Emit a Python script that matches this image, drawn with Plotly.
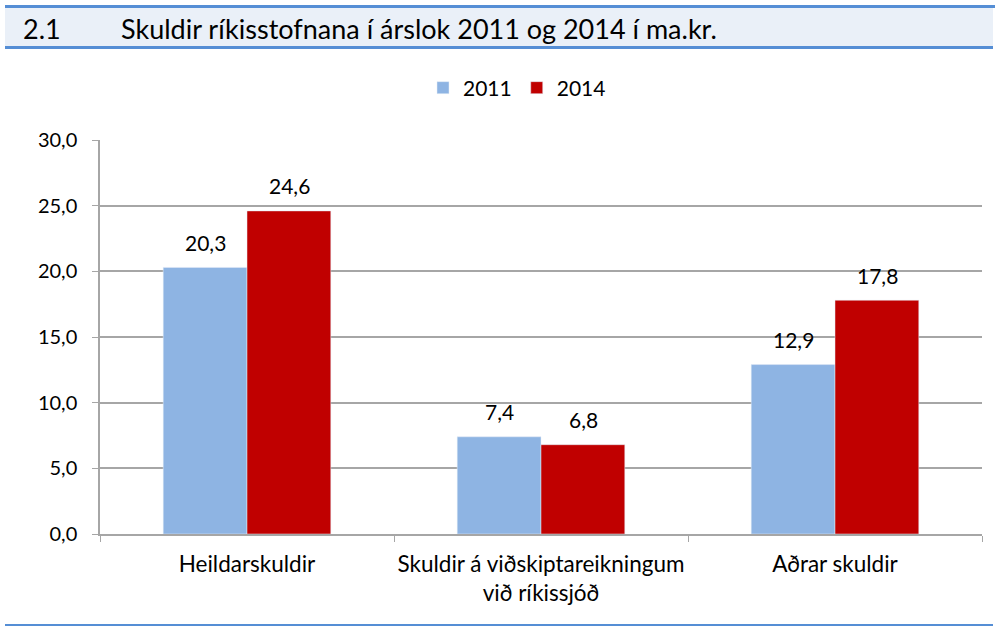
import plotly.graph_objects as go

categories = ["Heildarskuldir", "Skuldir á viðskiptareikningum<br>við ríkissjóð", "Aðrar skuldir"]
values_2011 = [20.3, 7.4, 12.9]
values_2014 = [24.6, 6.8, 17.8]
y_ticks = [0, 5, 10, 15, 20, 25, 30]

W, H = 997, 627
L, R, T, B = 100, 982, 140, 534
FONT = "Lato"

def px(x):
    return (x - L) / (R - L)

def py(y):
    return (B - y) / (B - T)

def fmt(v):
    return f"{v:.1f}".replace(".", ",")

fig = go.Figure()
fig.add_trace(go.Bar(name="2011", x=categories, y=values_2011, marker_color="#8EB4E3"))
fig.add_trace(go.Bar(name="2014", x=categories, y=values_2014, marker_color="#C00000"))

annotations = []
for vals, sh in ((values_2011, -42), (values_2014, 42)):
    for c, v in zip(categories, vals):
        annotations.append(dict(x=c, y=v, xref="x", yref="y", text=fmt(v), showarrow=False,
                                xshift=sh, yshift=25, yanchor="middle",
                                font=dict(size=21, color="#000", family=FONT)))

shapes = [
    dict(type="rect", xref="paper", yref="paper", x0=px(5), x1=px(993), y0=py(46), y1=py(8),
         fillcolor="#EAF0F8", line=dict(width=0), layer="below"),
    dict(type="line", xref="paper", yref="paper", x0=px(5), x1=px(995), y0=py(6.5), y1=py(6.5),
         line=dict(color="#558ED5", width=3)),
    dict(type="line", xref="paper", yref="paper", x0=px(5), x1=px(993), y0=py(47.5), y1=py(47.5),
         line=dict(color="#558ED5", width=3)),
    dict(type="line", xref="paper", yref="paper", x0=px(5), x1=px(993), y0=py(625), y1=py(625),
         line=dict(color="#558ED5", width=2)),
]

annotations += [
    dict(text="2.1", xref="paper", yref="paper", x=px(21), y=py(28), xanchor="left", yanchor="middle",
         showarrow=False, font=dict(size=27, color="#000", family=FONT)),
    dict(text="Skuldir ríkisstofnana í árslok 2011 og 2014 í ma.kr.", xref="paper", yref="paper",
         x=px(119), y=py(28), xanchor="left", yanchor="middle",
         showarrow=False, font=dict(size=27, color="#000", family=FONT)),
]

fig.update_layout(
    width=W, height=H,
    margin=dict(l=L, r=W - R, t=T, b=H - B),
    paper_bgcolor="white", plot_bgcolor="white",
    font=dict(family=FONT, size=20, color="#000"),
    separators=",.",
    barmode="group", bargap=0.43, bargroupgap=0,
    legend=dict(orientation="h", x=px(517), xanchor="center", y=py(88), yanchor="middle",
                font=dict(size=21), itemwidth=30, traceorder="normal"),
    shapes=shapes, annotations=annotations,
    xaxis=dict(showline=True, linecolor="#A6A6A6", linewidth=1.5, ticks="outside",
               tickson="boundaries", ticklen=6, tickcolor="#A6A6A6", showgrid=False,
               tickfont=dict(size=22.5), ticklabelstandoff=9, tickangle=0, automargin=False),
    yaxis=dict(range=[0, 30], tickvals=y_ticks, tickformat=".1f", showgrid=True,
               gridcolor="#A6A6A6", gridwidth=1.5, showline=True, linecolor="#A6A6A6", linewidth=1.5,
               ticks="outside", ticklen=6, tickcolor="#A6A6A6", zeroline=False,
               ticklabelstandoff=11, automargin=False),
)

fig.write_html("out.html", config={"displayModeBar": False},
               post_script="document.body.style.margin='0';")
